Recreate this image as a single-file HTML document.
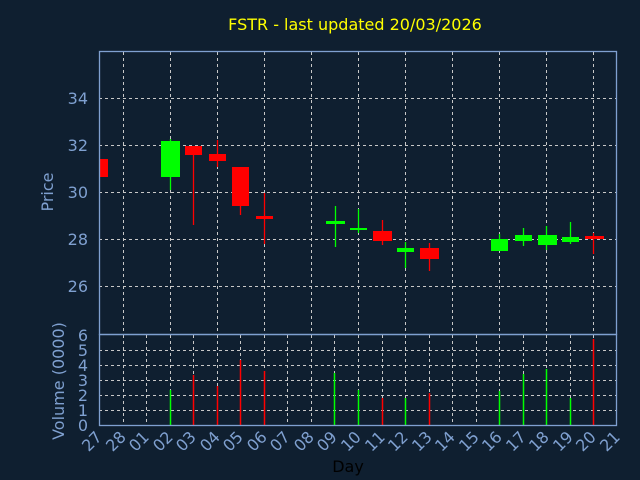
<!DOCTYPE html>
<html><head><style>html,body{margin:0;padding:0;background:#0f1f30;overflow:hidden;width:640px;height:480px}svg{display:block}</style></head><body>
<svg width="640" height="480" xmlns="http://www.w3.org/2000/svg" font-family="DejaVu Sans, Liberation Sans, sans-serif">
<rect width="640" height="480" fill="#0f1f30"/>
<text x="355" y="30" fill="#ffff00" font-size="16" text-anchor="middle">FSTR - last updated 20/03/2026</text>
<g stroke="#c8c8c8" stroke-dasharray="3,3" stroke-width="1">
<line x1="99" y1="98.5" x2="617" y2="98.5"/><line x1="99" y1="145.5" x2="617" y2="145.5"/><line x1="99" y1="192.5" x2="617" y2="192.5"/><line x1="99" y1="239.5" x2="617" y2="239.5"/><line x1="99" y1="286.5" x2="617" y2="286.5"/>
<line x1="123.5" y1="52" x2="123.5" y2="334"/><line x1="170.5" y1="52" x2="170.5" y2="334"/><line x1="217.5" y1="52" x2="217.5" y2="334"/><line x1="264.5" y1="52" x2="264.5" y2="334"/><line x1="311.5" y1="52" x2="311.5" y2="334"/><line x1="358.5" y1="52" x2="358.5" y2="334"/><line x1="405.5" y1="52" x2="405.5" y2="334"/><line x1="452.5" y1="52" x2="452.5" y2="334"/><line x1="499.5" y1="52" x2="499.5" y2="334"/><line x1="546.5" y1="52" x2="546.5" y2="334"/><line x1="593.5" y1="52" x2="593.5" y2="334"/>
<line x1="99" y1="350.5" x2="617" y2="350.5"/><line x1="99" y1="365.5" x2="617" y2="365.5"/><line x1="99" y1="380.5" x2="617" y2="380.5"/><line x1="99" y1="395.5" x2="617" y2="395.5"/><line x1="99" y1="410.5" x2="617" y2="410.5"/>
<line x1="123.5" y1="335" x2="123.5" y2="425"/><line x1="146.5" y1="335" x2="146.5" y2="425"/><line x1="170.5" y1="335" x2="170.5" y2="425"/><line x1="193.5" y1="335" x2="193.5" y2="425"/><line x1="217.5" y1="335" x2="217.5" y2="425"/><line x1="240.5" y1="335" x2="240.5" y2="425"/><line x1="264.5" y1="335" x2="264.5" y2="425"/><line x1="287.5" y1="335" x2="287.5" y2="425"/><line x1="311.5" y1="335" x2="311.5" y2="425"/><line x1="334.5" y1="335" x2="334.5" y2="425"/><line x1="358.5" y1="335" x2="358.5" y2="425"/><line x1="382.5" y1="335" x2="382.5" y2="425"/><line x1="405.5" y1="335" x2="405.5" y2="425"/><line x1="429.5" y1="335" x2="429.5" y2="425"/><line x1="452.5" y1="335" x2="452.5" y2="425"/><line x1="476.5" y1="335" x2="476.5" y2="425"/><line x1="499.5" y1="335" x2="499.5" y2="425"/><line x1="523.5" y1="335" x2="523.5" y2="425"/><line x1="546.5" y1="335" x2="546.5" y2="425"/><line x1="570.5" y1="335" x2="570.5" y2="425"/><line x1="593.5" y1="335" x2="593.5" y2="425"/>
</g>
<g stroke-width="1.3">
<rect x="99" y="159" width="9" height="18" fill="#ff0000"/>
<line x1="170.5" y1="139" x2="170.5" y2="190" stroke="#00ff00"/><rect x="161" y="141" width="19" height="36" fill="#00ff00"/>
<line x1="193.5" y1="146" x2="193.5" y2="225" stroke="#ff0000"/><rect x="185" y="146" width="17" height="9" fill="#ff0000"/>
<line x1="217.5" y1="140" x2="217.5" y2="167" stroke="#ff0000"/><rect x="209" y="154" width="17" height="7" fill="#ff0000"/>
<line x1="240.5" y1="167" x2="240.5" y2="215" stroke="#ff0000"/><rect x="232" y="167" width="17" height="39" fill="#ff0000"/>
<line x1="264.5" y1="193" x2="264.5" y2="244" stroke="#ff0000"/><rect x="256" y="216" width="17" height="3" fill="#ff0000"/>
<line x1="335.5" y1="206" x2="335.5" y2="247" stroke="#00ff00"/><rect x="326" y="221" width="19" height="3" fill="#00ff00"/>
<line x1="358.5" y1="209" x2="358.5" y2="233" stroke="#00ff00"/><rect x="350" y="228" width="17" height="2" fill="#00ff00"/>
<line x1="382.5" y1="220" x2="382.5" y2="245" stroke="#ff0000"/><rect x="373" y="231" width="19" height="10" fill="#ff0000"/>
<line x1="405.5" y1="242" x2="405.5" y2="268" stroke="#00ff00"/><rect x="397" y="248" width="17" height="4" fill="#00ff00"/>
<line x1="429.5" y1="243" x2="429.5" y2="271" stroke="#ff0000"/><rect x="420" y="248" width="19" height="11" fill="#ff0000"/>
<line x1="499.5" y1="234" x2="499.5" y2="251" stroke="#00ff00"/><rect x="491" y="239" width="17" height="12" fill="#00ff00"/>
<line x1="523.5" y1="228" x2="523.5" y2="246" stroke="#00ff00"/><rect x="515" y="235" width="17" height="6" fill="#00ff00"/>
<line x1="546.5" y1="226" x2="546.5" y2="250" stroke="#00ff00"/><rect x="538" y="235" width="19" height="10" fill="#00ff00"/>
<line x1="570.5" y1="222" x2="570.5" y2="244" stroke="#00ff00"/><rect x="562" y="237" width="17" height="5" fill="#00ff00"/>
<line x1="593.5" y1="233" x2="593.5" y2="254" stroke="#ff0000"/><rect x="585" y="236" width="19" height="3" fill="#ff0000"/>
</g>
<g stroke-width="1.5">
<line x1="170.5" y1="390" x2="170.5" y2="425" stroke="#00ff00"/>
<line x1="193.5" y1="375" x2="193.5" y2="425" stroke="#ff0000"/>
<line x1="217.5" y1="386" x2="217.5" y2="425" stroke="#ff0000"/>
<line x1="240.5" y1="360" x2="240.5" y2="425" stroke="#ff0000"/>
<line x1="264.5" y1="371" x2="264.5" y2="425" stroke="#ff0000"/>
<line x1="334.5" y1="373" x2="334.5" y2="425" stroke="#00ff00"/>
<line x1="358.5" y1="390" x2="358.5" y2="425" stroke="#00ff00"/>
<line x1="382.5" y1="398" x2="382.5" y2="425" stroke="#ff0000"/>
<line x1="405.5" y1="398" x2="405.5" y2="425" stroke="#00ff00"/>
<line x1="429.5" y1="393" x2="429.5" y2="425" stroke="#ff0000"/>
<line x1="499.5" y1="391" x2="499.5" y2="425" stroke="#00ff00"/>
<line x1="523.5" y1="374" x2="523.5" y2="425" stroke="#00ff00"/>
<line x1="546.5" y1="369" x2="546.5" y2="425" stroke="#00ff00"/>
<line x1="570.5" y1="398" x2="570.5" y2="425" stroke="#00ff00"/>
<line x1="593.5" y1="339" x2="593.5" y2="425" stroke="#ff0000"/>
</g>
<g stroke="#7fa0d0" fill="none" stroke-width="1.3">
<rect x="99.5" y="51.5" width="517" height="283"/>
<rect x="99.5" y="334.5" width="517" height="91"/>
</g>
<g fill="#7fa0d0" font-size="16" text-anchor="end">
<text x="88" y="104">34</text><text x="88" y="151">32</text><text x="88" y="198">30</text><text x="88" y="245">28</text><text x="88" y="292">26</text>
<text x="88" y="341">6</text><text x="88" y="356">5</text><text x="88" y="371">4</text><text x="88" y="386">3</text><text x="88" y="401">2</text><text x="88" y="416">1</text><text x="88" y="431">0</text>
<text transform="translate(53,192) rotate(-90)" text-anchor="middle">Price</text>
<text transform="translate(64,381) rotate(-90)" text-anchor="middle">Volume (0000)</text>
</g>
<g fill="#7fa0d0" font-size="16" text-anchor="end">
<text transform="translate(103,438) rotate(-45)">27</text>
<text transform="translate(127,438) rotate(-45)">28</text>
<text transform="translate(150,438) rotate(-45)">01</text>
<text transform="translate(174,438) rotate(-45)">02</text>
<text transform="translate(197,438) rotate(-45)">03</text>
<text transform="translate(221,438) rotate(-45)">04</text>
<text transform="translate(244,438) rotate(-45)">05</text>
<text transform="translate(268,438) rotate(-45)">06</text>
<text transform="translate(291,438) rotate(-45)">07</text>
<text transform="translate(315,438) rotate(-45)">08</text>
<text transform="translate(338,438) rotate(-45)">09</text>
<text transform="translate(362,438) rotate(-45)">10</text>
<text transform="translate(386,438) rotate(-45)">11</text>
<text transform="translate(409,438) rotate(-45)">12</text>
<text transform="translate(433,438) rotate(-45)">13</text>
<text transform="translate(456,438) rotate(-45)">14</text>
<text transform="translate(480,438) rotate(-45)">15</text>
<text transform="translate(503,438) rotate(-45)">16</text>
<text transform="translate(527,438) rotate(-45)">17</text>
<text transform="translate(550,438) rotate(-45)">18</text>
<text transform="translate(574,438) rotate(-45)">19</text>
<text transform="translate(597,438) rotate(-45)">20</text>
<text transform="translate(621,438) rotate(-45)">21</text>
</g>
<text x="348" y="472" fill="#000000" font-size="16" text-anchor="middle">Day</text>
</svg>
</body></html>
